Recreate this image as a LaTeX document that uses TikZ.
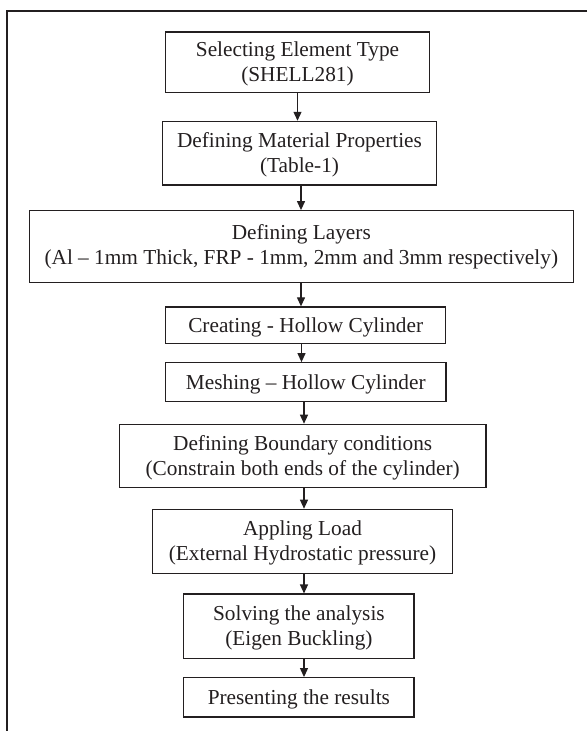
\documentclass[tikz,border=0pt]{standalone}
\usepackage{fontspec}
\setmainfont{Liberation Serif}
\usetikzlibrary{arrows.meta}
\definecolor{ink}{RGB}{35,31,32}
\newcommand\tstrut{\rule{0pt}{18.8pt}}
\newcommand\bstrut{\rule[-4.8pt]{0pt}{0pt}}
\begin{document}
\begin{tikzpicture}[x=1pt,y=-1pt,
  stepbox/.style={draw=ink, line width=1.2pt, inner sep=0pt, align=center,
    text=ink, font=\fontsize{21.3}{25}\selectfont},
  arr/.style={draw=ink, line width=1.2pt, -{Triangle[length=9pt,width=8pt]}}]
\useasboundingbox (0,0) rectangle (587,731);
% frame
\draw[ink, line width=2pt] (587,11) -- (7.3,11) -- (7.3,731);
% boxes
\node[stepbox, minimum width=263.6pt, minimum height=60.7pt] (b1) at (297.5,62.3)
  {\tstrut Selecting Element Type\\(SHELL281)\bstrut};
\node[stepbox, minimum width=274.4pt, minimum height=63.7pt] (b2) at (299.5,153.2)
  {\tstrut Defining Material Properties\\(Table-1)\bstrut};
\node[stepbox, minimum width=544pt, minimum height=72pt] (b3) at (301.3,246.7)
  {Defining Layers\\(Al -- 1mm Thick, FRP - 1mm, 2mm and 3mm respectively)};
\node[stepbox, minimum width=280pt, minimum height=36.7pt] (b4) at (305.7,325.3)
  {\tstrut Creating - Hollow Cylinder\bstrut};
\node[stepbox, minimum width=280.3pt, minimum height=39pt] (b5) at (305.8,382.2)
  {\tstrut Meshing -- Hollow Cylinder\bstrut};
\node[stepbox, minimum width=366.7pt, minimum height=63.4pt] (b6) at (302.7,456)
  {\tstrut Defining Boundary conditions\\(Constrain both ends of the cylinder)\bstrut};
\node[stepbox, minimum width=300.4pt, minimum height=64pt] (b7) at (302.5,541.3)
  {\tstrut Appling Load\\(External Hydrostatic pressure)\bstrut};
\node[stepbox, minimum width=230.3pt, minimum height=64.3pt] (b8) at (298.9,626.2)
  {\tstrut Solving the analysis\\(Eigen Buckling)\bstrut};
\node[stepbox, minimum width=230.3pt, minimum height=39.3pt] (b9) at (298.9,697.3)
  {\tstrut Presenting the results\bstrut};
% arrow columns
\coordinate (x1) at (297.5,0);
\coordinate (x2) at (301,0);
\coordinate (x3) at (301,0);
\coordinate (x4) at (301.5,0);
\coordinate (x5) at (304,0);
\coordinate (x6) at (304,0);
\coordinate (x7) at (304,0);
\coordinate (x8) at (304,0);
\draw[arr] (b1.south -| x1) -- (b2.north -| x1);
\draw[arr] (b2.south -| x2) -- (b3.north -| x2);
\draw[arr] (b3.south -| x3) -- (b4.north -| x3);
\draw[arr] (b4.south -| x4) -- (b5.north -| x4);
\draw[arr] (b5.south -| x5) -- (b6.north -| x5);
\draw[arr] (b6.south -| x6) -- (b7.north -| x6);
\draw[arr] (b7.south -| x7) -- (b8.north -| x7);
\draw[arr] (b8.south -| x8) -- (b9.north -| x8);
\end{tikzpicture}
\end{document}
